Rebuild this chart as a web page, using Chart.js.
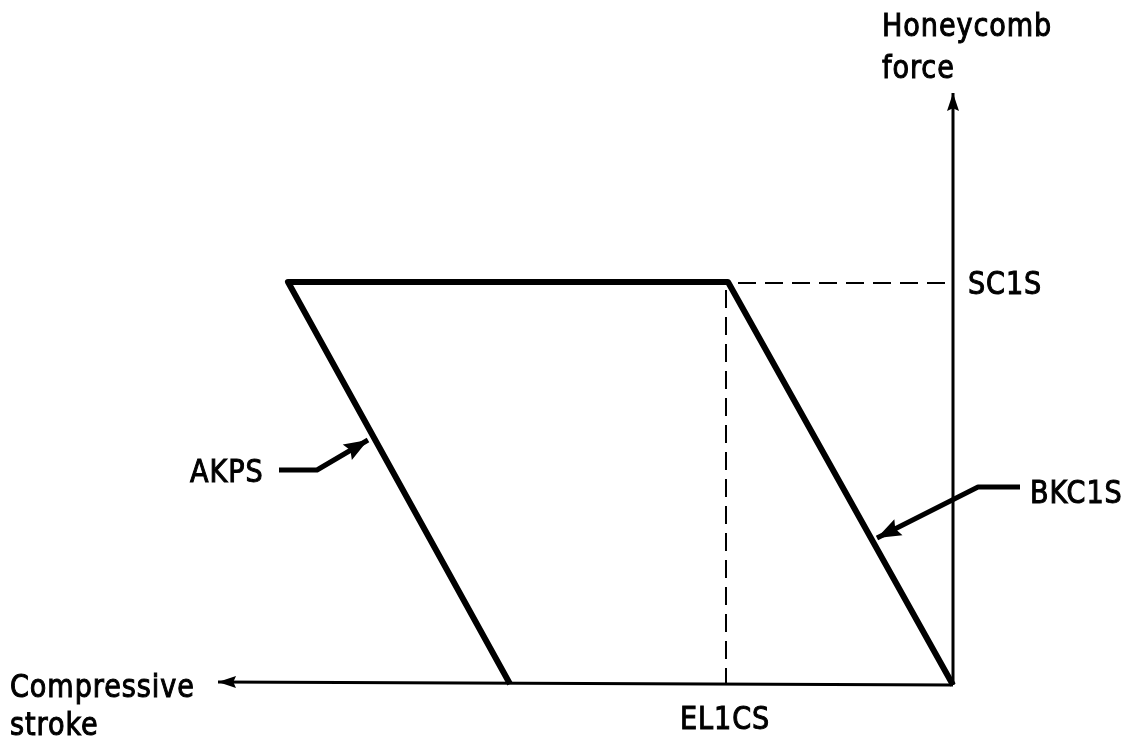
<!DOCTYPE html>
<html>
<head>
<meta charset="utf-8">
<title>Honeycomb force vs compressive stroke</title>
<script src="https://cdn.jsdelivr.net/npm/chart.js@4/dist/chart.umd.min.js"></script>
<style>
    html, body { margin: 0; padding: 0; background: #fff; }
    canvas { display: block; }
</style>
</head>
<body>
<canvas id="honeycombChart" width="1139" height="742"></canvas>
<script>
// stroke grows to the left, force grows upward (origin at bottom right)
const outlineStroke = [4.43, 6.65, 2.25, 0];
const outlineForce  = [0.01, 4.03, 4.03, 0];

const axisStrokeX = [0, 7.35];
const axisStrokeY = [0, 0.03];
const axisForceX  = [0, 0];
const axisForceY  = [0, 5.92];

const dashTopX   = [2.15, 0.08];
const dashTopY   = [4.02, 4.02];
const dashSideX  = [2.27, 2.27];
const dashSideY  = [3.95, 0];

const akpsLeaderX  = [6.74, 6.36, 5.85];
const akpsLeaderY  = [2.15, 2.15, 2.45];
const bkcLeaderX   = [-0.67, -0.25, 0.76];
const bkcLeaderY   = [1.98, 1.98, 1.47];

// label anchors (left edge, baseline) in chart units
const labels = [
    { text: 'Honeycomb', x: 0.71, y: 6.49 },
    { text: 'force', x: 0.71, y: 6.07 },
    { text: 'SC1S', x: -0.15, y: 3.91 },
    { text: 'EL1CS', x: 2.73, y: -0.44 },
    { text: 'Compressive', x: 9.43, y: -0.12 },
    { text: 'stroke', x: 9.43, y: -0.50 },
    { text: 'AKPS', x: 7.63, y: 2.03 },
    { text: 'BKC1S', x: -0.77, y: 1.82 }
];

function toPoints(xs, ys) {
    return xs.map((x, i) => ({ x: x, y: ys[i] }));
}

const arrowPlugin = {
    id: 'arrowHeads',
    afterDatasetsDraw(chart) {
        const ctx = chart.ctx;
        const xs = chart.scales.x;
        const ys = chart.scales.y;
        chart.data.datasets.forEach(ds => {
            if (!ds.arrowEnd) return;
            const n = ds.data.length;
            const a = ds.data[n - 2];
            const b = ds.data[n - 1];
            const x1 = xs.getPixelForValue(a.x), y1 = ys.getPixelForValue(a.y);
            const x2 = xs.getPixelForValue(b.x), y2 = ys.getPixelForValue(b.y);
            const ang = Math.atan2(y2 - y1, x2 - x1);
            const len = ds.arrowLength || 16;
            const half = ds.arrowWidth || 5;
            ctx.save();
            ctx.translate(x2, y2);
            ctx.rotate(ang);
            ctx.beginPath();
            ctx.moveTo(0, 0);
            ctx.lineTo(-len, -half);
            ctx.lineTo(-len * 0.85, 0);
            ctx.lineTo(-len, half);
            ctx.closePath();
            ctx.fillStyle = '#000';
            ctx.fill();
            ctx.restore();
        });
    }
};

const labelPlugin = {
    id: 'textLabels',
    afterDraw(chart) {
        const ctx = chart.ctx;
        const xs = chart.scales.x;
        const ys = chart.scales.y;
        labels.forEach(l => {
            const px = xs.getPixelForValue(l.x);
            const py = ys.getPixelForValue(l.y);
            ctx.save();
            ctx.translate(px, py);
            ctx.scale(0.94, 1);   // the lettering is a bit tall and narrow
            ctx.fillStyle = '#000';
            ctx.strokeStyle = '#000';
            ctx.lineWidth = 1;
            ctx.font = '32px "DejaVu Sans Condensed", "DejaVu Sans", sans-serif';
            ctx.letterSpacing = '1px';
            ctx.textAlign = 'left';
            ctx.textBaseline = 'alphabetic';
            ctx.fillText(l.text, 0, 0);
            ctx.strokeText(l.text, 0, 0);
            ctx.restore();
        });
    }
};

function lineSet(xs, ys, width, extra) {
    return Object.assign({
        data: toPoints(xs, ys),
        borderColor: '#000',
        borderWidth: width,
        pointRadius: 0,
        fill: false,
        tension: 0,
        borderJoinStyle: 'round',
        borderCapStyle: 'butt'
    }, extra || {});
}

new Chart(document.getElementById('honeycombChart').getContext('2d'), {
    type: 'line',
    data: {
        datasets: [
            lineSet(axisStrokeX, axisStrokeY, 3, { arrowEnd: true, arrowLength: 18, arrowWidth: 6 }),
            lineSet(axisForceX, axisForceY, 3, { arrowEnd: true, arrowLength: 18, arrowWidth: 6 }),
            lineSet(dashTopX, dashTopY, 2, { borderDash: [18, 9] }),
            lineSet(dashSideX, dashSideY, 2, { borderDash: [18, 9] }),
            lineSet(outlineStroke, outlineForce, 6),
            lineSet(akpsLeaderX, akpsLeaderY, 5, { arrowEnd: true, arrowLength: 24, arrowWidth: 9 }),
            lineSet(bkcLeaderX, bkcLeaderY, 5, { arrowEnd: true, arrowLength: 24, arrowWidth: 9 })
        ]
    },
    options: {
        responsive: false,
        animation: false,
        layout: { padding: 0 },
        plugins: {
            legend: { display: false },
            tooltip: { enabled: false }
        },
        scales: {
            x: { type: 'linear', reverse: true, min: -1.86, max: 9.53, display: false },
            y: { type: 'linear', min: -0.57, max: 6.85, display: false }
        }
    },
    plugins: [arrowPlugin, labelPlugin]
});
</script>
</body>
</html>
